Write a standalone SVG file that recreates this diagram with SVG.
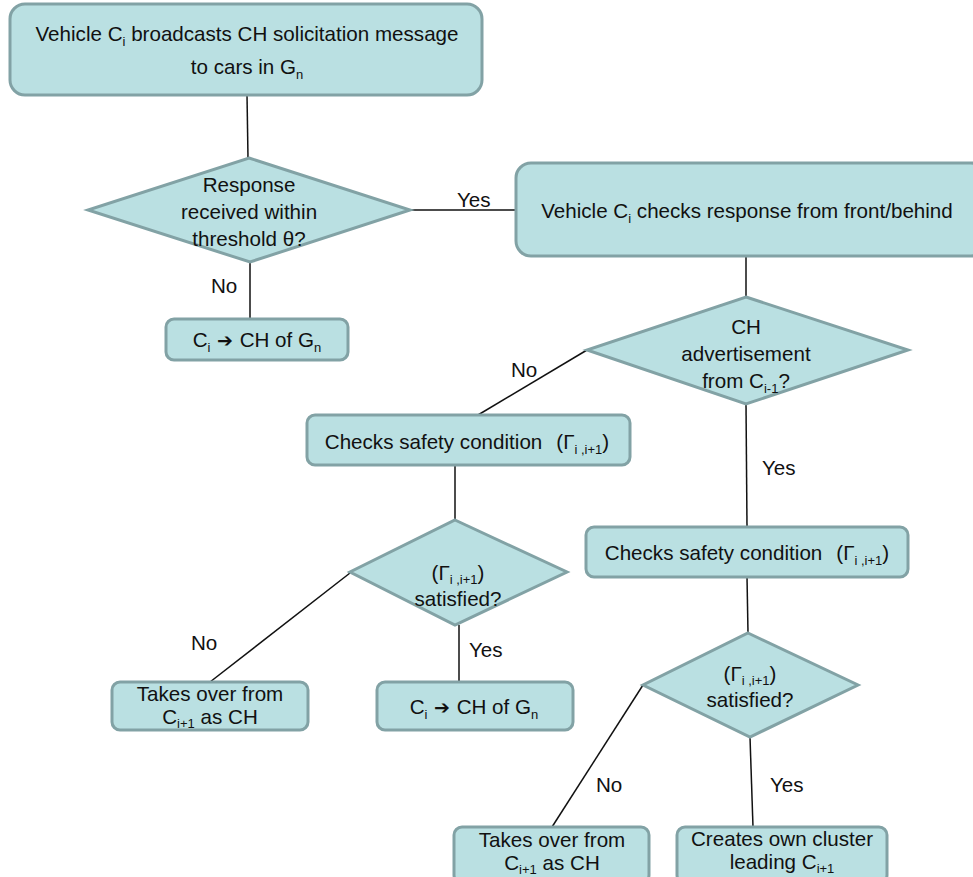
<svg xmlns="http://www.w3.org/2000/svg" width="973" height="877" viewBox="0 0 973 877">
<style>
.n{fill:#bae0e2;stroke:#82a2a5;stroke-width:3}
.t{font-family:"Liberation Sans",Arial,sans-serif;font-size:20.6px;fill:#111;text-anchor:middle}
.l{font-family:"Liberation Sans",Arial,sans-serif;font-size:20.6px;fill:#111}
.s{font-size:13px}
.a{font-family:"DejaVu Sans",sans-serif;font-size:19px;font-weight:bold}
.c{stroke:#111;stroke-width:1.5;fill:none}
</style>
<rect width="973" height="877" fill="#fff"/>
<g id="connectors">
<line class="c" x1="247" y1="95" x2="248" y2="158"/>
<line class="c" x1="410" y1="210" x2="517" y2="210"/>
<line class="c" x1="250" y1="262" x2="250" y2="319"/>
<line class="c" x1="746" y1="256" x2="746" y2="297"/>
<line class="c" x1="587" y1="350" x2="478" y2="415"/>
<line class="c" x1="455" y1="465" x2="455" y2="520"/>
<line class="c" x1="350" y1="573" x2="210" y2="682"/>
<line class="c" x1="459" y1="625" x2="459" y2="682"/>
<line class="c" x1="746" y1="404" x2="747" y2="527"/>
<line class="c" x1="747" y1="577" x2="748" y2="633"/>
<line class="c" x1="643" y1="685" x2="552" y2="827"/>
<line class="c" x1="750" y1="737" x2="753" y2="827"/>
<text class="l" x="457" y="207">Yes</text>
<text class="l" x="211" y="293">No</text>
<text class="l" x="511" y="377">No</text>
<text class="l" x="762" y="475">Yes</text>
<text class="l" x="191" y="650">No</text>
<text class="l" x="469" y="657">Yes</text>
<text class="l" x="596" y="792">No</text>
<text class="l" x="770" y="792">Yes</text>
</g>
<g id="start">
<rect class="n" x="10" y="4" width="472" height="91" rx="15"/>
<text class="t" x="247" y="41">Vehicle C<tspan class="s" dy="5">i</tspan><tspan dy="-5"> broadcasts CH solicitation message</tspan></text>
<text class="t" x="247" y="74">to cars in G<tspan class="s" dy="5">n</tspan></text>
</g>
<g id="d1">
<polygon class="n" points="249,158 410,210 250,262 88,210"/>
<text class="t" x="249" y="192">Response</text>
<text class="t" x="249" y="219">received within</text>
<text class="t" x="249" y="246">threshold θ?</text>
</g>
<g id="checks_response">
<rect class="n" x="516" y="163" width="470" height="93" rx="15"/>
<text class="t" x="747" y="218">Vehicle C<tspan class="s" dy="5">i</tspan><tspan dy="-5"> checks response from front/behind</tspan></text>
</g>
<g id="ch1">
<rect class="n" x="166" y="319" width="182" height="41" rx="8"/>
<text class="t" x="257" y="347">C<tspan class="s" dy="5">i</tspan><tspan class="a" dy="-5"> ➔ </tspan>CH of G<tspan class="s" dy="5">n</tspan></text>
</g>
<g id="d2">
<polygon class="n" points="746,297 908,350 746,404 587,350"/>
<text class="t" x="746" y="334">CH</text>
<text class="t" x="746" y="361">advertisement</text>
<text class="t" x="746" y="388">from C<tspan class="s" dy="5">i-1</tspan><tspan dy="-5">?</tspan></text>
</g>
<g id="safety1">
<rect class="n" x="307" y="415" width="323" height="50" rx="8"/>
<text class="t" x="467" y="449">Checks safety condition<tspan dx="14">(Γ</tspan><tspan class="s" dy="5">i ,i+1</tspan><tspan dy="-5">)</tspan></text>
</g>
<g id="d3">
<polygon class="n" points="455,520 567,572 455,625 350,572"/>
<text class="t" x="458" y="580">(Γ<tspan class="s" dy="4">i ,i+1</tspan><tspan dy="-4">)</tspan></text>
<text class="t" x="458" y="606">satisfied?</text>
</g>
<g id="takeover1">
<rect class="n" x="112" y="682" width="196" height="48" rx="8"/>
<text class="t" x="210" y="701">Takes over from</text>
<text class="t" x="210" y="724">C<tspan class="s" dy="4">i+1</tspan><tspan dy="-4"> as CH</tspan></text>
</g>
<g id="ch2">
<rect class="n" x="377" y="682" width="196" height="48" rx="8"/>
<text class="t" x="474" y="714">C<tspan class="s" dy="5">i</tspan><tspan class="a" dy="-5"> ➔ </tspan>CH of G<tspan class="s" dy="5">n</tspan></text>
</g>
<g id="safety2">
<rect class="n" x="586" y="527" width="322" height="50" rx="8"/>
<text class="t" x="747" y="560">Checks safety condition<tspan dx="14">(Γ</tspan><tspan class="s" dy="5">i ,i+1</tspan><tspan dy="-5">)</tspan></text>
</g>
<g id="d4">
<polygon class="n" points="748,633 858,685 750,737 643,685"/>
<text class="t" x="750" y="681">(Γ<tspan class="s" dy="4">i ,i+1</tspan><tspan dy="-4">)</tspan></text>
<text class="t" x="750" y="707">satisfied?</text>
</g>
<g id="takeover2">
<rect class="n" x="454" y="827" width="195" height="56" rx="8"/>
<text class="t" x="552" y="847">Takes over from</text>
<text class="t" x="552" y="870">C<tspan class="s" dy="4">i+1</tspan><tspan dy="-4"> as CH</tspan></text>
</g>
<g id="creates">
<rect class="n" x="677" y="827" width="210" height="56" rx="8"/>
<text class="t" x="782" y="846">Creates own cluster</text>
<text class="t" x="782" y="869">leading C<tspan class="s" dy="4">i+1</tspan></text>
</g>
</svg>
